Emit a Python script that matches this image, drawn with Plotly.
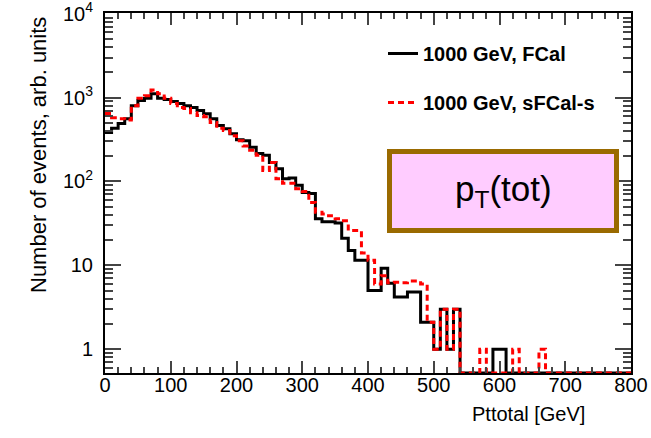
import math
import plotly.graph_objects as go

# ---------------- data (10 GeV bins from 0 to 800 GeV) ----------------
bin_edges = list(range(0, 810, 10))

fcal_counts = [
    383, 430, 490, 560, 800, 920, 980, 1110, 980, 950,
    900, 850, 800, 760, 700, 640, 560, 465, 425, 370,
    315, 305, 255, 215, 205, 168, 142, 108, 110, 90,
    74, 72, 36, 33, 33, 32, 21, 15, 11.5, 11.5,
    5, 5, 9.2, 6.1, 4.2, 4.2, 4.8, 4.8, 2.1, 2.1,
    1, 3, 1, 3, 0, 0, 0, 0, 0, 1,
    1, 0, 0, 0, 0, 0, 0, 0, 0, 0,
    0, 0, 0, 0, 0, 0, 0, 0, 0, 0,
]

sfcal_counts = [
    645, 575, 560, 540, 800, 980, 1050, 1230, 1110, 980,
    850, 760, 740, 660, 610, 590, 505, 430, 405, 350,
    305, 265, 235, 205, 135, 168, 108, 95, 95, 82,
    76, 56, 43, 41, 39, 36, 34, 26, 26, 14,
    11.5, 6, 7.5, 6.2, 6.3, 6.2, 6.5, 6.5, 6, 2.1,
    1, 3, 1, 3, 0, 0, 0, 1, 0, 0,
    0, 0, 1, 0, 0, 0, 1, 0, 0, 0,
    0, 0, 0, 0, 0, 0, 0, 0, 0, 0,
]

series_names = ["<b>1000 GeV, FCal</b>", "<b>1000 GeV, sFCal-s</b>"]
x_tick_vals = list(range(0, 801, 100))
y_tick_vals = [1, 10, 100, 1000, 10000]
y_tick_text = ["1", "10", "10<sup>2</sup>", "10<sup>3</sup>", "10<sup>4</sup>"]
x_title = "Pttotal [GeV]"
y_title = "Number of events, arb. units"
label_text = "p<sub>T</sub>(tot)"

# ---------------- figure ----------------
Y_MIN = 0.52
Y_MAX = 1.02e4


def step_y(counts):
    vals = [c if c > 0 else Y_MIN for c in counts]
    return vals + [vals[-1]]


fig = go.Figure()
fig.add_trace(go.Scatter(
    x=bin_edges, y=step_y(fcal_counts), mode="lines", line_shape="hv",
    line=dict(color="black", width=3), name=series_names[0],
    legendgroup="a",
))
fig.add_trace(go.Scatter(
    x=bin_edges, y=step_y(sfcal_counts), mode="lines", line_shape="hv",
    line=dict(color="#ff0000", width=3, dash="6px,4px"), name=series_names[1],
    legendgroup="b",
))

minor_y = [k * 10 ** d for d in range(-1, 4) for k in range(2, 10) if k * 10 ** d >= Y_MIN]

L, R, T, B = 105, 20, 13, 65
W, H = 651, 438
pw, ph = W - L - R, H - T - B


def px_x(x):
    return (x - L) / pw


def px_y(y):
    return (H - B - y) / ph


fig.update_layout(
    width=W, height=H,
    margin=dict(l=L, r=R, t=T, b=B),
    plot_bgcolor="white", paper_bgcolor="white",
    font=dict(family="Liberation Sans, Arial, sans-serif", size=20, color="black"),
    showlegend=True,
    legend=dict(
        x=px_x(383), y=px_y(34), xanchor="left", yanchor="top",
        bgcolor="rgba(0,0,0,0)", font=dict(size=20),
        traceorder="grouped", tracegroupgap=20,
    ),
    xaxis=dict(
        range=[0, 800], tickvals=x_tick_vals, ticks="inside", ticklen=12, tickwidth=1.5,
        showline=True, linewidth=2, linecolor="black", mirror="allticks",
        showgrid=False, zeroline=False, tickfont=dict(size=20),
        minor=dict(dtick=20, ticks="inside", ticklen=6, tickwidth=1.5, showgrid=False),
        ticklabelstandoff=-7, automargin=False, ticklabeloverflow="allow",
    ),
    yaxis=dict(
        type="log", range=[math.log10(Y_MIN), math.log10(Y_MAX)],
        tickvals=y_tick_vals, ticktext=y_tick_text,
        ticks="inside", ticklen=16, tickwidth=1.5,
        showline=True, linewidth=2, linecolor="black", mirror="allticks",
        showgrid=False, zeroline=False, tickfont=dict(size=20),
        minor=dict(tickvals=minor_y, ticks="inside", ticklen=8, tickwidth=1.5, showgrid=False),
        ticklabelstandoff=6, automargin=False, ticklabeloverflow="allow",
    ),
    shapes=[dict(
        type="rect", xref="paper", yref="paper",
        x0=px_x(389.5), x1=px_x(616.5), y0=px_y(230.5), y1=px_y(151.5),
        line=dict(color="#9a6a00", width=5), fillcolor="#ffccff", layer="above",
    )],
    annotations=[
        dict(text=label_text, xref="paper", yref="paper", x=px_x(503), y=px_y(191),
             showarrow=False, font=dict(size=35), xanchor="center", yanchor="middle"),
        dict(text=x_title, xref="paper", yref="paper", x=px_x(587), y=px_y(414),
             showarrow=False, font=dict(size=20), xanchor="right", yanchor="middle"),
        dict(text=y_title, xref="paper", yref="paper", x=px_x(38), y=px_y(15),
             showarrow=False, font=dict(size=22), textangle=-90,
             xanchor="center", yanchor="top"),
    ],
)

fig.write_html("out.html")
